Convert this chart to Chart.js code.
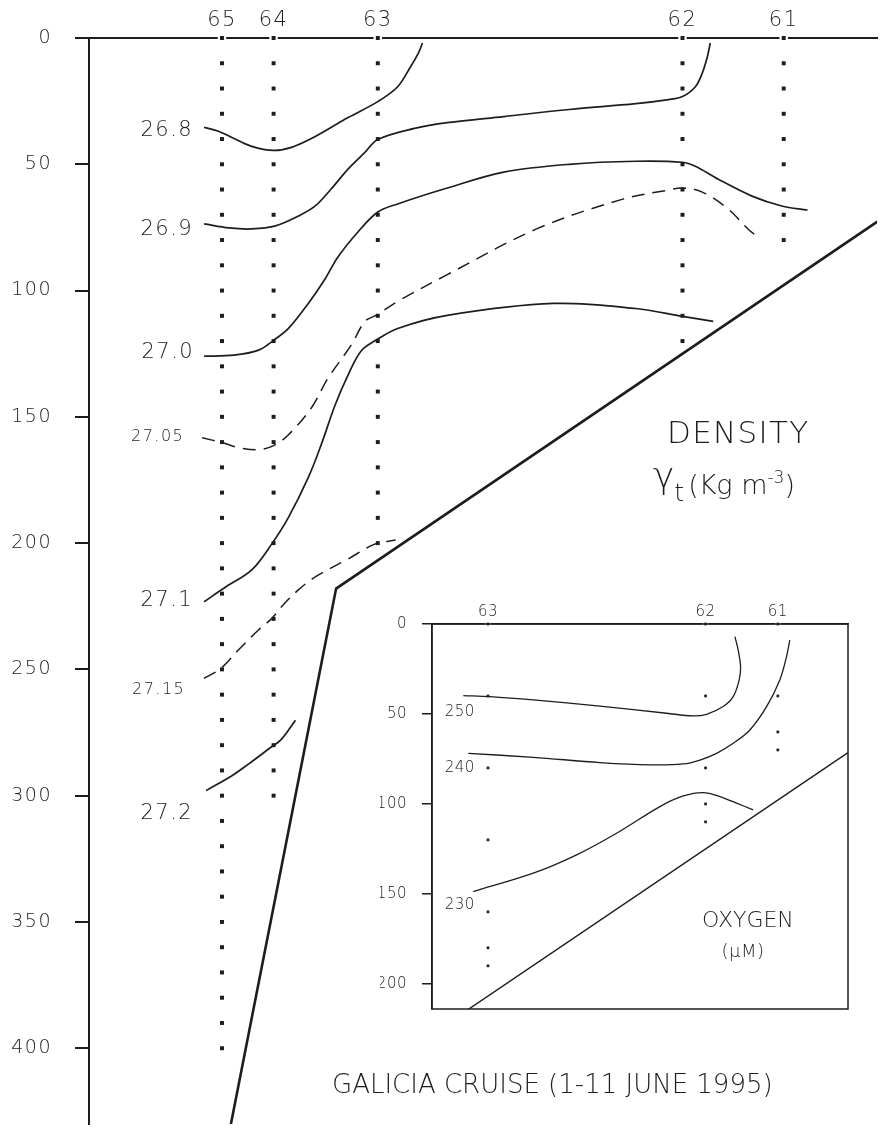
<!DOCTYPE html>
<html>
<head>
<meta charset="utf-8">
<script src="https://cdn.jsdelivr.net/npm/chart.js@4.4.1/dist/chart.umd.min.js"></script>
<style>
  html, body { margin: 0; padding: 0; background: #fff; }
  #wrap { position: relative; width: 883px; height: 1130px; overflow: hidden;
          font-family: "DejaVu Sans", sans-serif; color: #1d1d1d; }
  #main { position: absolute; left: 0; top: 0; }
  #inset { position: absolute; left: 380px; top: 598px; }
  .txt { position: absolute; white-space: nowrap; line-height: 1; font-weight: 300; }
</style>
</head>
<body>
<div id="wrap">
  <canvas id="main" width="883" height="1130"></canvas>
  <canvas id="inset" width="480" height="420"></canvas>
  <div class="txt" style="left:667px;top:417px;font-size:31px;letter-spacing:1.3px">DENSITY</div>
  <div class="txt" style="left:653px;top:464px;font-size:27px"><span style="font-size:36px;position:relative;top:-6px">γ</span><span style="font-size:25px;position:relative;top:7px;margin-right:4px">t</span>(Kg m<span style="font-size:17px;position:relative;top:-11px">-3</span>)</div>
  <div class="txt" style="left:702px;top:909px;font-size:22px">OXYGEN</div>
  <div class="txt" style="left:693px;top:942px;width:100px;text-align:center;font-size:18px;letter-spacing:0.5px">(µM)</div>
  <div class="txt" style="left:332px;top:1071px;font-size:26px">GALICIA CRUISE (1-11 JUNE 1995)</div>
</div>
<script>
// stations along the section (distance units), bottle depths (m)
const stationNames = ['65', '64', '63', '62', '61'];
const stationDist = [134, 186, 291, 598, 700];
const stationBottom = [400, 300, 200, 120, 80];
const bottleDepths = [0, 10, 20, 30, 40, 50, 60, 70, 80, 90, 100, 110, 120, 130, 140, 150,
  160, 170, 180, 190, 200, 210, 220, 230, 240, 250, 260, 270, 280, 290, 300, 310, 320, 330,
  340, 350, 360, 370, 380, 390, 400];
const depthTicks = [0, 50, 100, 150, 200, 250, 300, 350, 400];

// sea floor
const shelfDist = [143, 249, 799];
const shelfDepth = [430, 218, 71.5];

// sigma-t isolines [distance, depth]
const iso268 = [[116, 35.4], [131, 37.0], [144, 39.4], [164, 42.9], [186, 44.5], [204, 43.3],
  [228, 39.0], [261, 31.5], [291, 25.2], [311, 19.3], [324, 11.4], [332, 5.9], [336, 2.0]];
const iso269 = [[116, 73.6], [141, 75.2], [164, 75.6], [188, 74.4], [211, 70.5], [228, 66.5],
  [244, 59.8], [261, 51.9], [278, 45.3], [291, 40.2], [328, 35.8], [361, 33.5], [418, 31.1],
  [484, 28.3], [551, 26.0], [584, 24.4], [598, 23.2], [611, 19.3], [618, 13.8], [623, 7.5], [626, 2.0]];
const iso270 = [[116, 126.0], [146, 125.6], [171, 123.6], [186, 119.7], [201, 115.0], [221, 105.1],
  [238, 95.3], [251, 86.6], [271, 76.8], [291, 68.9], [311, 65.7], [361, 59.4], [418, 53.1],
  [484, 50.0], [551, 48.8], [598, 49.2], [611, 50.8], [634, 55.9], [668, 62.6], [698, 66.5], [724, 68.1]];
const iso2705 = [[114, 158.3], [134, 160.2], [151, 162.2], [171, 163.0], [186, 161.4], [201, 157.1],
  [224, 146.5], [241, 134.6], [264, 121.7], [278, 112.2], [289, 109.8], [311, 104.3], [361, 93.7],
  [451, 75.6], [538, 63.8], [584, 60.2], [598, 59.4], [618, 61.0], [644, 67.7], [664, 75.6], [676, 79.5]];
const iso271 = [[116, 223.2], [138, 217.3], [164, 210.6], [184, 200.4], [201, 189.8], [221, 174.0],
  [234, 161.0], [248, 145.3], [261, 133.5], [274, 124.0], [289, 119.7], [311, 115.0], [361, 109.8],
  [468, 105.1], [551, 107.1], [598, 110.2], [629, 112.2]];
const iso2715 = [[116, 253.5], [133, 249.6], [151, 242.1], [171, 234.3], [184, 229.9], [194, 225.2],
  [211, 218.5], [228, 213.4], [261, 206.3], [288, 200.4], [309, 198.8]];
const iso272 = [[118, 298.0], [144, 292.1], [161, 287.4], [181, 281.5], [194, 277.6], [208, 270.1]];

// oxygen inset
const insetNames = ['63', '62', '61'];
const insetDist = [291, 598, 700];
const insetBottles63 = [0, 40, 80, 120, 160, 180, 190];
const insetBottles62 = [0, 40, 80, 100, 110];
const insetBottles61 = [0, 40, 60, 70];
const insetDepthTicks = [0, 50, 100, 150, 200];
const oxy250 = [[256.2, 39.8], [293.8, 40.4], [354.9, 42.2], [449, 45.6], [543, 49.6], [580.6, 51.1],
  [599.4, 50.2], [622.9, 45.9], [637, 40.4], [645.5, 31.1], [647.4, 23.7], [644, 14.4], [639.4, 7.0]];
const oxy240 = [[263.2, 71.9], [354.9, 74.1], [449, 77.0], [519.5, 78.3], [566.5, 77.8], [590, 75.6],
  [613.6, 71.9], [637, 66.3], [660.5, 58.9], [684.1, 45.9], [702.8, 31.1], [712.3, 18.1], [716.9, 8.9]];
const oxy230 = [[270.3, 148.7], [354.9, 138.5], [416.1, 128.3], [472.5, 116.3], [533.6, 101.5],
  [566.5, 95.6], [594.7, 93.7], [618.2, 95.9], [641.8, 99.6], [665.2, 103.3]];

const ink = '#1d1d1d';
const font = '"DejaVu Sans", sans-serif';
Chart.defaults.font.family = font;
Chart.defaults.font.weight = 300;
Chart.defaults.color = ink;

const toPts = a => a.map(p => ({ x: p[0], y: p[1] }));
function isoline(data, width, dashed) {
  return { data: toPts(data), showLine: true, borderColor: ink, borderWidth: width,
    borderDash: dashed ? [13, 8] : [], pointRadius: 0, tension: 0.35, fill: false, order: 2 };
}
function shelf(width) {
  return { data: shelfDist.map((x, i) => ({ x, y: shelfDepth[i] })), showLine: true,
    borderColor: ink, borderWidth: width, pointRadius: 0, tension: 0, order: 2 };
}

const textLayer = {
  id: 'textLayer',
  beforeDraw(chart, args, opts) { chart.ctx.letterSpacing = opts.spacing; },
  afterDatasetsDraw(chart, args, opts) {
    const { ctx, scales: { x, y } } = chart;
    ctx.save();
    ctx.fillStyle = ink;
    ctx.textBaseline = 'middle';
    opts.items.forEach(it => {
      ctx.font = '300 ' + it.size + 'px ' + font;
      ctx.textAlign = it.align;
      ctx.fillText(it.text, x.getPixelForValue(it.x), y.getPixelForValue(it.y));
    });
    if (opts.frame) {
      const a = chart.chartArea;
      ctx.strokeStyle = ink;
      ctx.lineWidth = 1.5;
      ctx.strokeRect(a.left, a.top, a.right - a.left, a.bottom - a.top);
    }
    ctx.restore();
  }
};

// main density section
const mainDots = [];
stationDist.forEach((x, i) => bottleDepths.filter(d => d <= stationBottom[i])
  .forEach(d => mainDots.push({ x, y: d })));

new Chart(document.getElementById('main'), {
  type: 'scatter',
  data: {
    datasets: [
      isoline(iso268, 1.7), isoline(iso269, 1.7), isoline(iso270, 1.7), isoline(iso2705, 1.5, true),
      isoline(iso271, 1.7), isoline(iso2715, 1.5, true), isoline(iso272, 1.7),
      shelf(2.6),
      { data: stationDist.map(x => ({ x, y: 0 })), pointStyle: 'rect', pointRadius: 6,
        pointBackgroundColor: '#fff', pointBorderWidth: 0, clip: false, order: 3 },
      { data: mainDots, pointStyle: 'rect', pointRadius: 2.8, pointBackgroundColor: ink,
        pointBorderWidth: 0, clip: false, order: 0 }
    ]
  },
  options: {
    responsive: false, animation: false,
    layout: { padding: 0 },
    plugins: {
      legend: { display: false }, tooltip: { enabled: false },
      textLayer: {
        spacing: '1.5px',
        items: [
          { text: '26.8', x: 105, y: 36.6, size: 21, align: 'right' },
          { text: '26.9', x: 105, y: 76.0, size: 21, align: 'right' },
          { text: '27.0', x: 106, y: 124.6, size: 21, align: 'right' },
          { text: '27.05', x: 96, y: 157.8, size: 16, align: 'right' },
          { text: '27.1', x: 105, y: 222.6, size: 21, align: 'right' },
          { text: '27.15', x: 97, y: 257.9, size: 16, align: 'right' },
          { text: '27.2', x: 105, y: 306.9, size: 21, align: 'right' }
        ]
      }
    },
    scales: {
      x: {
        type: 'linear', position: 'top', min: 0, max: 794,
        afterBuildTicks: s => { s.ticks = stationDist.map(v => ({ value: v })); },
        afterFit: s => { s.height = 38; s.paddingLeft = 0; s.paddingRight = 0; },
        grid: { drawOnChartArea: false, drawTicks: false },
        border: { display: true, color: ink, width: 2 },
        ticks: { autoSkip: false, maxRotation: 0, padding: 5, font: { size: 21 },
          callback: v => stationNames[stationDist.indexOf(v)] }
      },
      y: {
        type: 'linear', reverse: true, min: 0, max: 430,
        afterBuildTicks: s => { s.ticks = depthTicks.map(v => ({ value: v })); },
        afterFit: s => { s.width = 89; s.paddingTop = 0; s.paddingBottom = 0; },
        grid: { drawOnChartArea: false, drawTicks: true, tickLength: 14, color: ink, lineWidth: 2 },
        border: { display: true, color: ink, width: 2 },
        ticks: { padding: 23, font: { size: 19 } }
      }
    }
  },
  plugins: [textLayer]
});

// oxygen inset
const insetBottles = [insetBottles63, insetBottles62, insetBottles61];
const insetDots = [];
insetDist.forEach((x, i) => insetBottles[i].forEach(d => insetDots.push({ x, y: d })));

new Chart(document.getElementById('inset'), {
  type: 'scatter',
  data: {
    datasets: [
      isoline(oxy250, 1.3), isoline(oxy240, 1.3), isoline(oxy230, 1.3),
      shelf(1.4),
      { data: insetDist.map(x => ({ x, y: 0 })), pointStyle: 'rect', pointRadius: 4,
        pointBackgroundColor: '#fff', pointBorderWidth: 0, clip: false, order: 3 },
      { data: insetDots, pointStyle: 'rect', pointRadius: 1.9, pointBackgroundColor: ink,
        pointBorderWidth: 0, clip: false, order: 0 }
    ]
  },
  options: {
    responsive: false, animation: false,
    layout: { padding: { left: 0, top: 0, right: 12, bottom: 9 } },
    plugins: {
      legend: { display: false }, tooltip: { enabled: false },
      textLayer: {
        spacing: '0.5px', frame: true,
        items: [
          { text: '250', x: 230, y: 48.9, size: 15, align: 'left' },
          { text: '240', x: 230, y: 80.0, size: 15, align: 'left' },
          { text: '230', x: 230, y: 156.3, size: 15, align: 'left' }
        ]
      }
    },
    scales: {
      x: {
        type: 'linear', position: 'top', min: 212, max: 799,
        afterBuildTicks: s => { s.ticks = insetDist.map(v => ({ value: v })); },
        afterFit: s => { s.height = 26; s.paddingLeft = 0; s.paddingRight = 0; },
        grid: { drawOnChartArea: false, drawTicks: false },
        border: { display: true, color: ink, width: 1.5 },
        ticks: { autoSkip: false, maxRotation: 0, padding: 3, font: { size: 15 },
          callback: v => insetNames[insetDist.indexOf(v)] }
      },
      y: {
        type: 'linear', reverse: true, min: 0, max: 214,
        afterBuildTicks: s => { s.ticks = insetDepthTicks.map(v => ({ value: v })); },
        afterFit: s => { s.width = 52; s.paddingTop = 0; s.paddingBottom = 0; },
        grid: { drawOnChartArea: false, drawTicks: true, tickLength: 10, color: ink, lineWidth: 1.5 },
        border: { display: true, color: ink, width: 1.5 },
        ticks: { padding: 15, font: { size: 15 } }
      }
    }
  },
  plugins: [textLayer]
});
</script>
</body>
</html>
